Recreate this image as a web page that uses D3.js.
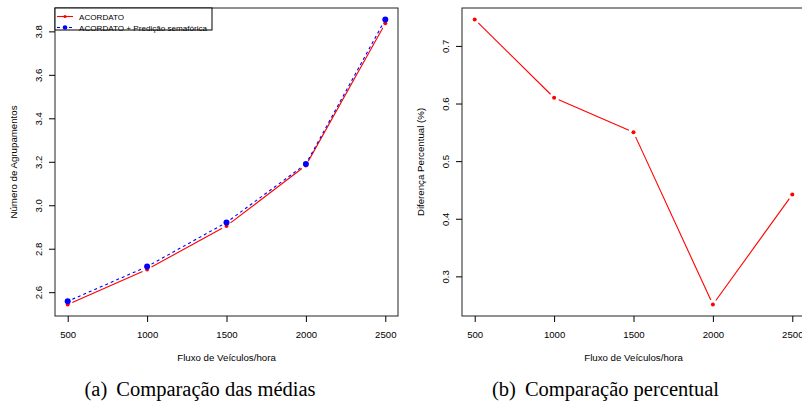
<!DOCTYPE html>
<html>
<head>
<meta charset="utf-8">
<script src="https://cdn.jsdelivr.net/npm/d3@7"></script>
<style>
  body { margin: 0; background: #fff; }
  svg { display: block; }
  .tick text { font-family: "Liberation Sans", Arial, sans-serif; font-size: 9.6px; fill: #000; }
  .lab { font-family: "Liberation Sans", Arial, sans-serif; font-size: 9.7px; fill: #000; }
  .leg { font-family: "Liberation Sans", Arial, sans-serif; font-size: 8.1px; fill: #000; }
  .cap { font-family: "Liberation Serif", "Times New Roman", serif; font-size: 20.5px; fill: #000; }
</style>
</head>
<body>
<div id="target_area"></div>
<script>
// data
var fluxo = [500, 1000, 1500, 2000, 2500];
var acordato = [2.543, 2.705, 2.905, 3.183, 3.837];
var acordatoPred = [2.558, 2.718, 2.921, 3.190, 3.855];
var diferenca = [0.746, 0.610, 0.550, 0.251, 0.442];

var xTicks = [500, 1000, 1500, 2000, 2500];
var yTicksA = [2.6, 2.8, 3.0, 3.2, 3.4, 3.6, 3.8];
var yTicksB = [0.3, 0.4, 0.5, 0.6, 0.7];
var legendLabels = ["ACORDATO", "ACORDATO + Predição semafórica"];

var width = 802, height = 401;

var svg = d3.select("#target_area")
  .append("svg")
  .attr("width", width)
  .attr("height", height);

// R style 4% padding on the ranges
function pad(ext) {
  var r = ext[1] - ext[0];
  return [ext[0] - r * 0.04, ext[1] + r * 0.04];
}

// draws a type="b" line: segments with small gaps at the points
function drawLine(g, x, y, xs, ys, color, dash, gap) {
  for (var i = 0; i < xs.length - 1; i++) {
    var x0 = x(xs[i]), y0 = y(ys[i]), x1 = x(xs[i + 1]), y1 = y(ys[i + 1]);
    var len = Math.sqrt((x1 - x0) * (x1 - x0) + (y1 - y0) * (y1 - y0));
    var ux = (x1 - x0) / len, uy = (y1 - y0) / len;
    g.append("line")
      .attr("x1", x0 + ux * gap).attr("y1", y0 + uy * gap)
      .attr("x2", x1 - ux * gap).attr("y2", y1 - uy * gap)
      .attr("stroke", color)
      .attr("stroke-width", 1.1)
      .attr("stroke-dasharray", dash);
  }
}

function panel(opts) {
  var g = svg.append("g");
  var x = d3.scaleLinear().domain(pad(d3.extent(fluxo))).range([opts.left, opts.right]);
  var y = d3.scaleLinear().domain(opts.ydom).range([opts.bottom, opts.top]);

  // frame
  g.append("rect")
    .attr("x", opts.left).attr("y", opts.top)
    .attr("width", opts.right - opts.left).attr("height", opts.bottom - opts.top)
    .attr("fill", "none").attr("stroke", "#222").attr("stroke-width", 1);

  var xa = g.append("g")
    .attr("transform", "translate(0," + opts.bottom + ")")
    .call(d3.axisBottom(x).tickValues(xTicks).tickSize(6).tickPadding(9).tickFormat(d3.format("d")));
  xa.select(".domain").remove();

  var ya = g.append("g")
    .attr("transform", "translate(" + opts.left + ",0)")
    .call(d3.axisLeft(y).tickValues(opts.yticks).tickSize(6).tickFormat(d3.format(".1f")));
  ya.select(".domain").remove();
  ya.selectAll(".tick text")
    .attr("x", 0).attr("dy", null)
    .attr("text-anchor", "middle")
    .attr("transform", "translate(" + (-13.5) + ",0) rotate(-90)");

  g.append("text").attr("class", "lab")
    .attr("x", (x(500) + x(2500)) / 2).attr("y", opts.bottom + 45)
    .attr("text-anchor", "middle").text("Fluxo de Veículos/hora");

  g.append("text").attr("class", "lab")
    .attr("transform", "translate(" + (opts.left - 38) + "," + ((opts.top + opts.bottom) / 2) + ") rotate(-90)")
    .attr("text-anchor", "middle").text(opts.ylab);

  var cap = g.append("text").attr("class", "cap")
    .attr("x", opts.capx).attr("y", 396)
    .attr("text-anchor", "middle");
  cap.append("tspan").text(opts.capTag);
  cap.append("tspan").attr("dx", 9).text(opts.caption);

  return {g: g, x: x, y: y};
}

// (a)
var a = panel({
  left: 55, right: 398, top: 8, bottom: 316,
  ydom: pad(d3.extent(acordato.concat(acordatoPred))),
  yticks: yTicksA,
  ylab: "Número de Agrupamentos",
  capTag: "(a)",
  caption: "Comparação das médias",
  capx: 200
});

drawLine(a.g, a.x, a.y, fluxo, acordato, "#ff0000", null, 5);
drawLine(a.g, a.x, a.y, fluxo, acordatoPred, "#0000ff", "3,3", 5);

a.g.selectAll(".pa").data(fluxo).enter().append("circle")
  .attr("cx", function (d) { return a.x(d); })
  .attr("cy", function (d, i) { return a.y(acordato[i]); })
  .attr("r", 2).attr("fill", "#ff0000");
a.g.selectAll(".pb").data(fluxo).enter().append("circle")
  .attr("cx", function (d) { return a.x(d); })
  .attr("cy", function (d, i) { return a.y(acordatoPred[i]); })
  .attr("r", 3).attr("fill", "#0000ff");

// legend
var leg = a.g.append("g");
leg.append("rect")
  .attr("x", 55).attr("y", 8).attr("width", 157).attr("height", 22)
  .attr("fill", "#fff").attr("stroke", "#000").attr("stroke-width", 1);
var legColors = ["#ff0000", "#0000ff"];
var legDash = [null, "3,3"];
var legR = [1.6, 2.3];
legendLabels.forEach(function (t, i) {
  var yy = 16.5 + i * 11;
  leg.append("line").attr("x1", 57).attr("x2", 73).attr("y1", yy).attr("y2", yy)
    .attr("stroke", legColors[i]).attr("stroke-width", 1.1).attr("stroke-dasharray", legDash[i]);
  leg.append("circle").attr("cx", 65).attr("cy", yy).attr("r", legR[i]).attr("fill", legColors[i]);
  leg.append("text").attr("class", "leg").attr("x", 79).attr("y", yy + 3).text(t);
});

// (b)
var b = panel({
  left: 462, right: 805, top: 8, bottom: 316,
  ydom: pad(d3.extent(diferenca)),
  yticks: yTicksB,
  ylab: "Diferença Percentual (%)",
  capTag: "(b)",
  caption: "Comparação percentual",
  capx: 605.5
});

drawLine(b.g, b.x, b.y, fluxo, diferenca, "#ff0000", null, 5);
b.g.selectAll(".pc").data(fluxo).enter().append("circle")
  .attr("cx", function (d) { return b.x(d); })
  .attr("cy", function (d, i) { return b.y(diferenca[i]); })
  .attr("r", 2).attr("fill", "#ff0000");
</script>
</body>
</html>
